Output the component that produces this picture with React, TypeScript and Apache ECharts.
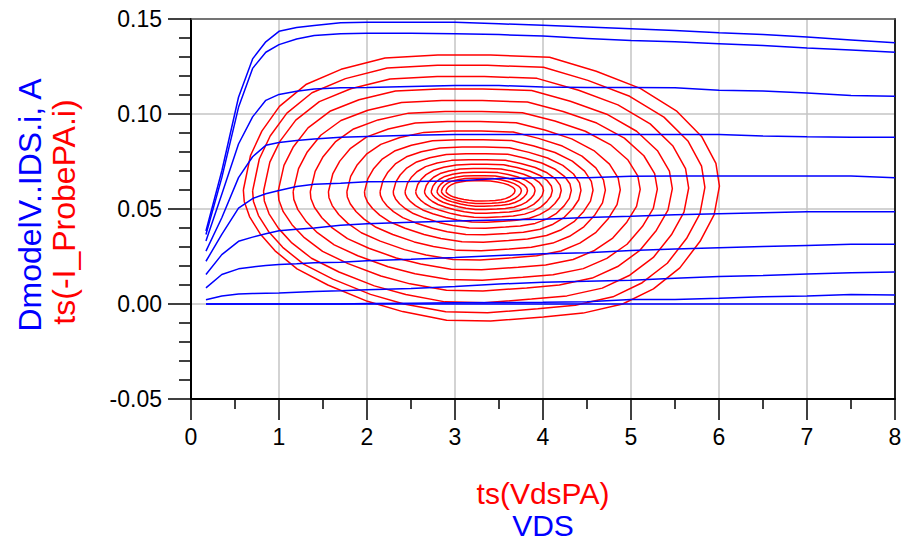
import React, { useEffect, useRef } from "react";
import * as echarts from "echarts";

// ---- Blue IV family (VDS vs DmodelV..IDS.i) ----
const VDS = [0.17, 0.35, 0.54, 0.7, 0.85, 1.0, 1.2, 1.4, 1.7, 2.0, 2.5, 3.0, 3.5, 4.0, 4.5, 5.0, 5.5, 6.0, 6.5, 7.0, 7.5, 8.0];
const IDS_0 = [0, 0, 0, 0, 0, 0, 0, 0, 0, 0, 0, 0, 0, 0, 0, 0, 0, 0, 0, 0, 0, 0];
const IDS_1 = [0, 0, 0, 0, 0, 0, 0, 0, 0, 0.0002, 0.0004, 0.0006, 0.0008, 0.0009, 0.0012, 0.0024, 0.0024, 0.003, 0.0038, 0.0042, 0.005, 0.0048];
const IDS_2 = [0.0022, 0.0042, 0.0052, 0.0055, 0.0057, 0.0058, 0.0062, 0.0066, 0.007, 0.0075, 0.0082, 0.0092, 0.0105, 0.0115, 0.012, 0.0125, 0.0135, 0.0145, 0.015, 0.0158, 0.0165, 0.0169];
const IDS_3 = [0.0085, 0.0155, 0.0185, 0.0195, 0.0202, 0.0208, 0.0212, 0.0217, 0.022, 0.0228, 0.0236, 0.0245, 0.0255, 0.0265, 0.027, 0.0282, 0.029, 0.0296, 0.0302, 0.0308, 0.0314, 0.0314];
const IDS_4 = [0.0155, 0.026, 0.033, 0.0352, 0.037, 0.0385, 0.0394, 0.04, 0.0415, 0.0422, 0.043, 0.0437, 0.0442, 0.0446, 0.0455, 0.0462, 0.047, 0.0475, 0.048, 0.0486, 0.0486, 0.0486];
const IDS_5 = [0.0225, 0.0366, 0.0505, 0.0555, 0.058, 0.0597, 0.0618, 0.063, 0.0635, 0.0643, 0.0645, 0.0648, 0.066, 0.0665, 0.0665, 0.0672, 0.0674, 0.0674, 0.0674, 0.0674, 0.0674, 0.0665];
const IDS_6 = [0.0278, 0.0454, 0.0665, 0.0775, 0.0835, 0.085, 0.086, 0.0868, 0.0877, 0.0882, 0.0888, 0.0892, 0.0892, 0.0892, 0.0892, 0.0892, 0.0892, 0.0892, 0.0884, 0.088, 0.0877, 0.0877];
const IDS_7 = [0.0331, 0.0578, 0.0842, 0.0985, 0.1072, 0.1103, 0.112, 0.1132, 0.1138, 0.114, 0.1145, 0.115, 0.115, 0.1142, 0.114, 0.114, 0.1138, 0.1125, 0.1121, 0.111, 0.1097, 0.1093];
const IDS_8 = [0.0366, 0.0665, 0.1035, 0.124, 0.1325, 0.1365, 0.1395, 0.1413, 0.1422, 0.1425, 0.1425, 0.1422, 0.1418, 0.141, 0.1398, 0.1387, 0.138, 0.137, 0.136, 0.1347, 0.1337, 0.1325];
const IDS_9 = [0.0384, 0.07, 0.1088, 0.129, 0.138, 0.1435, 0.1455, 0.1466, 0.148, 0.1483, 0.1483, 0.1483, 0.1475, 0.1467, 0.1458, 0.1449, 0.144, 0.1428, 0.1418, 0.1405, 0.139, 0.1375];
const IDS_CURVES = [IDS_0, IDS_1, IDS_2, IDS_3, IDS_4, IDS_5, IDS_6, IDS_7, IDS_8, IDS_9];

// ---- Red time-domain trajectory ts(VdsPA) vs ts(-I_ProbePA.i) ----
// outermost loop outline (closed)
const OUTER_X = [0.59, 0.67, 0.8, 1.0, 1.3, 1.7, 2.2, 2.8, 3.4, 4.07, 4.6, 5.1, 5.51, 5.8, 5.96, 6.0, 5.94, 5.78, 5.55, 5.25, 4.9, 4.45, 4.0, 3.4, 2.9, 2.4, 2.0, 1.55, 1.2, 0.95, 0.78, 0.66, 0.6, 0.59];
const OUTER_Y = [0.06, 0.078, 0.091, 0.104, 0.1155, 0.1235, 0.1295, 0.131, 0.131, 0.1299, 0.1225, 0.1135, 0.1017, 0.088, 0.074, 0.062, 0.047, 0.033, 0.019, 0.008, 0.0, -0.0048, -0.0068, -0.009, -0.0085, -0.004, 0.0014, 0.01, 0.0185, 0.028, 0.037, 0.046, 0.054, 0.06];
const OUTER_CX = 3.295;
const OUTER_CY = 0.061;
// per-loop centre and relative size (outer -> inner), read from loop crossings
const LOOP_CX = [3.3, 3.27, 3.24, 3.23, 3.23, 3.23, 3.22, 3.24, 3.27, 3.29, 3.31, 3.32, 3.33, 3.33, 3.32, 3.31, 3.3, 3.29];
const LOOP_CY = [0.061, 0.0605, 0.0602, 0.06, 0.0598, 0.0597, 0.0596, 0.0595, 0.0595, 0.0595, 0.0595, 0.0595, 0.0595, 0.0595, 0.0595, 0.0595, 0.0595, 0.0595];
const LOOP_SX = [1.0, 0.95, 0.893, 0.828, 0.765, 0.693, 0.613, 0.543, 0.48, 0.422, 0.374, 0.328, 0.287, 0.25, 0.218, 0.19, 0.168, 0.145];
const LOOP_SY = [1.0, 0.93, 0.85, 0.76, 0.675, 0.595, 0.52, 0.45, 0.385, 0.33, 0.28, 0.235, 0.2, 0.168, 0.14, 0.115, 0.095, 0.076];

const Y_TICKS = [-0.05, 0, 0.05, 0.1, 0.15];
const X_TICKS = [0, 1, 2, 3, 4, 5, 6, 7, 8];

const FONT = "Liberation Sans, Arial, Helvetica, sans-serif";

export default function App() {
  const ref = useRef<HTMLDivElement>(null);

  useEffect(() => {
    if (!ref.current) return;
    const chart = echarts.init(ref.current, null, { renderer: "svg" });

    const spiral: number[][] = [];
    for (let k = 0; k < LOOP_SX.length; k++) {
      for (let j = 0; j < OUTER_X.length; j++) {
        spiral.push([
          LOOP_CX[k] + (OUTER_X[j] - OUTER_CX) * LOOP_SX[k],
          LOOP_CY[k] + (OUTER_Y[j] - OUTER_CY) * LOOP_SY[k],
        ]);
      }
      spiral.push([NaN, NaN]); // break between loops
    }

    const blue = IDS_CURVES.map((c, i) => ({
      type: "line",
      name: "VDS-" + i,
      data: VDS.map((x, j) => [x, c[j]]),
      showSymbol: false,
      symbol: "none",
      silent: true,
      z: 4,
      lineStyle: { color: "#0000ff", width: 1.5 },
    }));

    const tickStyle = { color: "#000", width: 1.5 };

    chart.setOption({
      animation: false,
      grid: { left: 191, top: 19, width: 704, height: 380 },
      xAxis: [
        {
          type: "value",
          position: "bottom",
          min: X_TICKS[0],
          max: X_TICKS[X_TICKS.length - 1],
          interval: 1,
          axisLine: { show: true, onZero: false, lineStyle: { color: "#000", width: 2 } },
          axisTick: { show: true, length: 21, lineStyle: tickStyle },
          minorTick: { show: true, splitNumber: 2, length: 10, lineStyle: tickStyle },
          splitLine: { show: true, lineStyle: { color: "#c4c4c4", width: 1.5 } },
          axisLabel: { margin: 26, fontSize: 23, color: "#000", fontFamily: FONT },
        },
        {
          type: "value",
          position: "top",
          min: 0,
          max: 8,
          axisLine: { show: true, onZero: false, lineStyle: { color: "#555", width: 1.5 } },
          axisTick: { show: false },
          axisLabel: { show: false },
          splitLine: { show: false },
        },
      ],
      yAxis: [
        {
          type: "value",
          position: "left",
          min: Y_TICKS[0],
          max: Y_TICKS[Y_TICKS.length - 1],
          interval: 0.05,
          axisLine: { show: true, onZero: false, lineStyle: { color: "#000", width: 2 } },
          axisTick: { show: true, length: 23, lineStyle: tickStyle },
          minorTick: { show: true, splitNumber: 5, length: 12, lineStyle: tickStyle },
          splitLine: { show: true, lineStyle: { color: "#c4c4c4", width: 1.5 } },
          axisLabel: {
            margin: 29,
            fontSize: 23,
            color: "#000",
            fontFamily: FONT,
            formatter: (v: number) => v.toFixed(2),
          },
        },
        {
          type: "value",
          position: "right",
          min: -0.05,
          max: 0.15,
          axisLine: { show: true, onZero: false, lineStyle: { color: "#222", width: 2 } },
          axisTick: { show: false },
          axisLabel: { show: false },
          splitLine: { show: false },
        },
      ],
      series: [
        {
          type: "line",
          name: "ts(-I_ProbePA.i)",
          data: spiral,
          showSymbol: false,
          symbol: "none",
          silent: true,
          connectNulls: false,
          z: 3,
          lineStyle: { color: "#ff0000", width: 1.5 },
        },
        ...blue,
      ],
      graphic: [
        {
          type: "text",
          x: 543,
          y: 493,
          style: { text: "ts(VdsPA)", fill: "#ff0000", fontSize: 30, fontFamily: FONT, align: "center", verticalAlign: "middle" },
        },
        {
          type: "text",
          x: 543,
          y: 525,
          style: { text: "VDS", fill: "#0000ff", fontSize: 30, fontFamily: FONT, align: "center", verticalAlign: "middle" },
        },
        {
          type: "text",
          x: 30,
          y: 205,
          rotation: Math.PI / 2,
          style: { text: "DmodelV..IDS.i, A", fill: "#0000ff", fontSize: 32, fontFamily: FONT, align: "center", verticalAlign: "middle" },
        },
        {
          type: "text",
          x: 64,
          y: 212,
          rotation: Math.PI / 2,
          style: { text: "ts(-I_ProbePA.i)", fill: "#ff0000", fontSize: 32, fontFamily: FONT, align: "center", verticalAlign: "middle" },
        },
      ],
    });

    return () => chart.dispose();
  }, []);

  return <div ref={ref} style={{ position: "absolute", left: 0, top: 0, width: 909, height: 540 }} />;
}
